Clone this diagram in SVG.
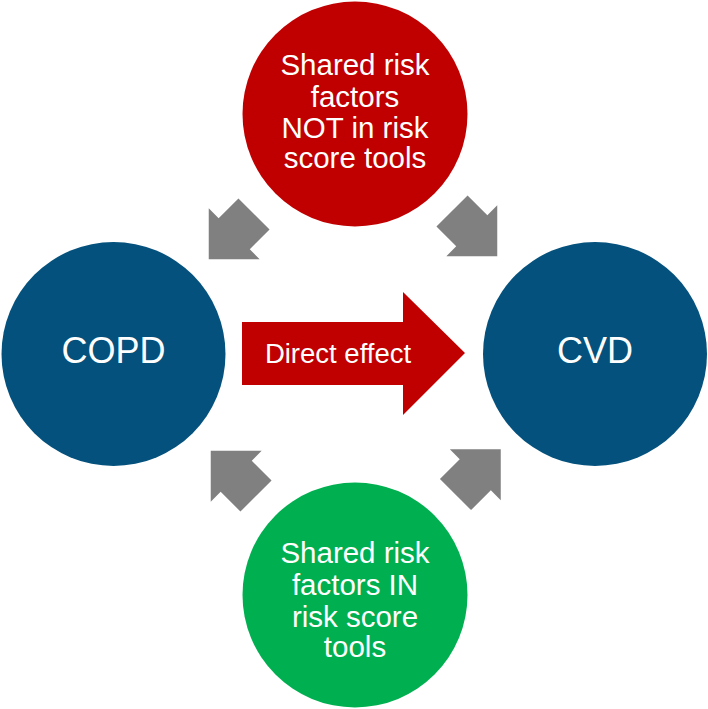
<svg xmlns="http://www.w3.org/2000/svg" width="708" height="709" viewBox="0 0 708 709">
  <style>
    .lbl { font-family: "Liberation Sans", Arial, sans-serif; fill: #ffffff; text-anchor: middle; }
    .big { font-size: 36px; }
    .mid { font-size: 29.5px; }
    .blue { fill: #03517c; }
    .red { fill: #c00000; }
    .green { fill: #00b050; }
    .gray { fill: #808080; }
  </style>
  <defs>
    <polygon id="blk" points="0,-22 28,-22 28,-36 64,0 28,36 28,22 0,22"/>
  </defs>
  <rect width="708" height="709" fill="#ffffff"/>

  <g id="connectors">
    <use href="#blk" class="gray" transform="translate(254,214) rotate(135)"/>
    <use href="#blk" class="gray" transform="translate(452,211) rotate(45)"/>
    <use href="#blk" class="gray" transform="translate(256,496) rotate(-135)"/>
    <use href="#blk" class="gray" transform="translate(455.5,494.5) rotate(-45)"/>
    <g id="direct-effect">
      <polygon class="red" points="242,322 403,322 403,292 465,353 403,415 403,385 242,385"/>
      <text class="lbl" x="338" y="363" font-size="27.5">Direct effect</text>
    </g>
  </g>

  <g id="shared-not">
    <circle class="red" cx="355" cy="114" r="112.5"/>
    <text class="lbl mid" x="355" y="75">Shared risk</text>
    <text class="lbl mid" x="355" y="107">factors</text>
    <text class="lbl mid" x="355" y="138">NOT in risk</text>
    <text class="lbl mid" x="355" y="168">score tools</text>
  </g>

  <g id="copd">
    <circle class="blue" cx="113.5" cy="354" r="112"/>
    <text class="lbl big" x="113.5" y="363">COPD</text>
  </g>

  <g id="cvd">
    <circle class="blue" cx="595" cy="354" r="112"/>
    <text class="lbl big" x="595" y="363">CVD</text>
  </g>

  <g id="shared-in">
    <circle class="green" cx="355" cy="595" r="112.5"/>
    <text class="lbl mid" x="355" y="563">Shared risk</text>
    <text class="lbl mid" x="355" y="595">factors IN</text>
    <text class="lbl mid" x="355" y="627">risk score</text>
    <text class="lbl mid" x="355" y="657">tools</text>
  </g>
</svg>
